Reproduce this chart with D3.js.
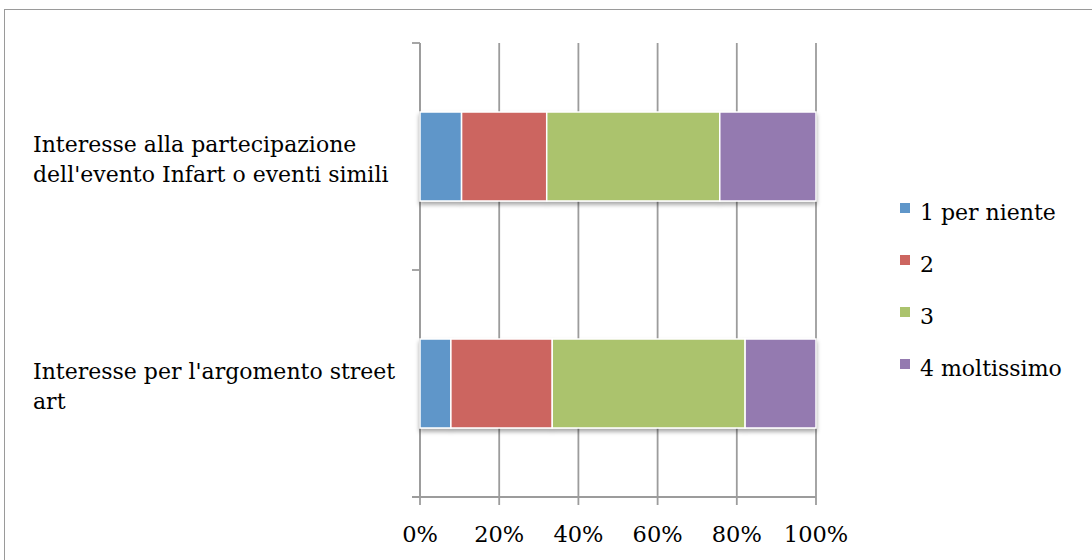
<!DOCTYPE html>
<html>
<head>
<meta charset="utf-8">
<script src="https://cdn.jsdelivr.net/npm/d3@7/dist/d3.min.js"></script>
<style>
  html, body { margin: 0; padding: 0; background: #fff; }
  svg { display: block; }
  text { font-family: "DejaVu Serif", "Liberation Serif", serif; fill: #000; }
</style>
</head>
<body>
<svg id="chart" width="1092" height="560"></svg>
<script>
// Survey answers, share of respondents per rating (percent)
const categories = [
  "Interesse alla partecipazione dell'evento Infart o eventi simili",
  "Interesse per l'argomento street art"
];
const categoryLines = [
  ["Interesse alla partecipazione", "dell'evento Infart o eventi simili"],
  ["Interesse per l'argomento street", "art"]
];
const seriesNames = ["1 per niente", "2", "3", "4 moltissimo"];
const perNiente   = [10.5, 7.8];
const due         = [21.5, 25.6];
const tre         = [43.7, 48.7];
const moltissimo  = [24.3, 17.9];
const tickValues  = [0, 0.2, 0.4, 0.6, 0.8, 1];
const tickLabels  = ["0%", "20%", "40%", "60%", "80%", "100%"];
const colors      = ["#5f96c9", "#cc6560", "#abc36d", "#947ab0"];

const svg = d3.select("#chart");

// outer frame
svg.append("rect")
  .attr("x", 4.5).attr("y", 9.5)
  .attr("width", 1200).attr("height", 700)
  .attr("fill", "none").attr("stroke", "#9a9a9a").attr("stroke-width", 1);

const plot = { left: 420, right: 816, top: 43, bottom: 497 };

const x = d3.scaleLinear().domain([0, 1]).range([plot.left, plot.right]);
const y = d3.scaleBand().domain(categories)
  .range([plot.top, plot.bottom])
  .paddingInner(0.608).paddingOuter(0.304);

// soft shadow under bars
const defs = svg.append("defs");
const f = defs.append("filter").attr("id", "shadow")
  .attr("x", "-5%").attr("y", "-10%").attr("width", "110%").attr("height", "130%");
f.append("feDropShadow").attr("dx", 0).attr("dy", 3).attr("stdDeviation", 2)
  .attr("flood-color", "#000").attr("flood-opacity", 0.35);

const gridColor = "#9c9c9c";

// vertical gridlines with ticks below the axis
svg.append("g").selectAll("line").data(tickValues).join("line")
  .attr("x1", d => x(d)).attr("x2", d => x(d))
  .attr("y1", plot.top).attr("y2", plot.bottom + 8)
  .attr("stroke", gridColor).attr("stroke-width", 1.8);

// category axis with outer ticks
const yBoundaries = [plot.top, (plot.top + plot.bottom) / 2, plot.bottom];
svg.append("line")
  .attr("x1", plot.left).attr("x2", plot.left)
  .attr("y1", plot.top).attr("y2", plot.bottom)
  .attr("stroke", gridColor).attr("stroke-width", 1.8);
svg.append("g").selectAll("line").data(yBoundaries).join("line")
  .attr("x1", plot.left - 8).attr("x2", plot.left)
  .attr("y1", d => d).attr("y2", d => d)
  .attr("stroke", gridColor).attr("stroke-width", 1.8);
svg.append("line")
  .attr("x1", plot.left - 8).attr("x2", plot.right)
  .attr("y1", plot.bottom).attr("y2", plot.bottom)
  .attr("stroke", gridColor).attr("stroke-width", 1.8);

// stacked bars
const rows = categories.map((c, i) => ({
  cat: c,
  "1 per niente": perNiente[i] / 100,
  "2": due[i] / 100,
  "3": tre[i] / 100,
  "4 moltissimo": moltissimo[i] / 100
}));
const stacked = d3.stack().keys(seriesNames)(rows);

const barG = svg.append("g").attr("filter", "url(#shadow)");
barG.selectAll("g").data(stacked).join("g")
  .attr("fill", (d, i) => colors[i])
  .selectAll("rect").data(d => d).join("rect")
  .attr("x", d => x(d[0]))
  .attr("width", d => x(d[1]) - x(d[0]))
  .attr("y", d => y(d.data.cat))
  .attr("height", y.bandwidth())
  .attr("stroke", "#fff").attr("stroke-width", 1.5);

// x tick labels
svg.append("g").selectAll("text").data(tickValues).join("text")
  .attr("x", d => x(d)).attr("y", 542)
  .attr("text-anchor", "middle")
  .attr("font-size", 22.5)
  .text((d, i) => tickLabels[i]);

// category labels
categories.forEach((c, i) => {
  const cy = y(c) + y.bandwidth() / 2;
  const t = svg.append("text").attr("x", 33).attr("y", cy - 5).attr("font-size", 22);
  categoryLines[i].forEach((line, j) => {
    t.append("tspan").attr("x", 33).attr("dy", j === 0 ? 0 : 30).text(line);
  });
});

// legend
const legend = svg.append("g").selectAll("g").data(seriesNames).join("g")
  .attr("transform", (d, i) => `translate(900, ${220 + i * 52})`);
legend.append("rect")
  .attr("x", 0).attr("y", -17).attr("width", 10).attr("height", 10)
  .attr("fill", (d, i) => colors[i]);
legend.append("text")
  .attr("x", 20).attr("y", 0)
  .attr("font-size", 22)
  .text(d => d);
</script>
</body>
</html>
